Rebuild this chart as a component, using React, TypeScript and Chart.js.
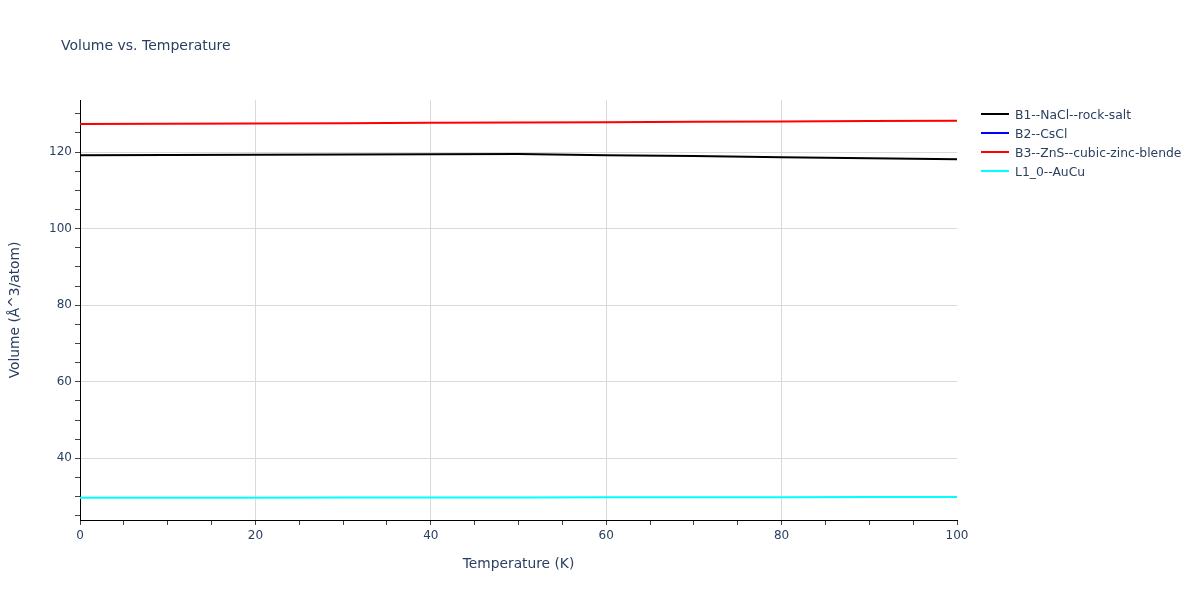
import React, { useEffect, useRef } from "react";
import { Chart, registerables } from "chart.js";

Chart.register(...registerables);

const temperatures = [0, 10, 20, 30, 40, 50, 60, 70, 80, 90, 100];
const b1Volume = [119.2, 119.25, 119.3, 119.35, 119.4, 119.5, 119.2, 118.95, 118.65, 118.4, 118.1];
const b2Volume: number[] = [];
const b3Volume = [127.3, 127.38, 127.46, 127.55, 127.64, 127.73, 127.82, 127.91, 128.0, 128.1, 128.2];
const l10Volume = [29.7, 29.72, 29.74, 29.76, 29.78, 29.8, 29.82, 29.84, 29.86, 29.88, 29.9];

const seriesNames = ["B1--NaCl--rock-salt", "B2--CsCl", "B3--ZnS--cubic-zinc-blende", "L1_0--AuCu"];
const seriesColors = ["#000000", "#0000ff", "#ff0000", "#00ffff"];
const xTicks = [0, 5, 10, 15, 20, 25, 30, 35, 40, 45, 50, 55, 60, 65, 70, 75, 80, 85, 90, 95, 100];
const yTicks = [25, 30, 35, 40, 45, 50, 55, 60, 65, 70, 75, 80, 85, 90, 95, 100, 105, 110, 115, 120, 125, 130];

const FONT = "'DejaVu Sans', Verdana, sans-serif";
const TEXT = "#2a3f5f";

const overlay = {
  id: "overlay",
  afterDraw(chart: any) {
    const ctx = chart.ctx;
    const area = chart.chartArea;
    ctx.save();
    ctx.fillStyle = TEXT;
    ctx.font = `14px ${FONT}`;
    ctx.textAlign = "left";
    ctx.textBaseline = "alphabetic";
    ctx.fillText("Volume vs. Temperature", 61, 50);

    ctx.font = `13.8px ${FONT}`;
    ctx.textAlign = "center";
    ctx.fillText("Temperature (K)", (area.left + area.right) / 2, 568);
    ctx.save();
    ctx.translate(19, (area.top + area.bottom) / 2);
    ctx.rotate(-Math.PI / 2);
    ctx.fillText("Volume (Å^3/atom)", 0, 0);
    ctx.restore();

    ctx.font = `12.35px ${FONT}`;
    ctx.textAlign = "left";
    ctx.textBaseline = "alphabetic";
    seriesNames.forEach((name, i) => {
      const y = 114 + i * 19;
      ctx.strokeStyle = seriesColors[i];
      ctx.lineWidth = 2;
      ctx.beginPath();
      ctx.moveTo(981, y);
      ctx.lineTo(1009, y);
      ctx.stroke();
      ctx.fillStyle = TEXT;
      ctx.fillText(name, 1015, y + 4.5);
    });
    ctx.restore();
  },
};

export default function App() {
  const ref = useRef<HTMLCanvasElement>(null);
  useEffect(() => {
    if (!ref.current) return;
    const datasets = [b1Volume, b2Volume, b3Volume, l10Volume].map((d, i) => ({
      label: seriesNames[i],
      data: d.map((v, j) => ({ x: temperatures[j], y: v })),
      borderColor: seriesColors[i],
      backgroundColor: seriesColors[i],
      borderWidth: 2,
      pointRadius: 0,
      tension: 0,
      fill: false,
    }));
    const chart = new Chart(ref.current, {
      type: "line",
      data: { datasets },
      plugins: [overlay],
      options: {
        animation: false,
        responsive: false,
        layout: { padding: { left: 0, top: 100, right: 243, bottom: 0 } },
        plugins: { legend: { display: false }, title: { display: false }, tooltip: { enabled: false } },
        scales: {
          x: {
            type: "linear",
            min: 0,
            max: 100,
            afterFit(scale: any) {
              scale.height = 80;
            },
            afterBuildTicks(scale: any) {
              scale.ticks = xTicks.map((v) => ({ value: v }));
            },
            border: { display: true, color: "#000000", width: 1 },
            grid: {
              drawOnChartArea: true,
              drawTicks: true,
              tickLength: 5,
              tickColor: "#444444",
              color: (c: any) => {
                const v = c.tick ? c.tick.value : 0;
                return v % 20 === 0 && v !== 0 && v !== 100 ? "#dadada" : "rgba(0,0,0,0)";
              },
            },
            ticks: {
              autoSkip: false,
              maxRotation: 0,
              padding: 4,
              color: TEXT,
              font: { family: FONT, size: 12 },
              callback: (v: any) => (Number(v) % 20 === 0 ? String(v) : ""),
            },
          },
          y: {
            type: "linear",
            min: 23.9,
            max: 133.6,
            afterFit(scale: any) {
              scale.width = 80;
            },
            afterBuildTicks(scale: any) {
              scale.ticks = yTicks.map((v) => ({ value: v }));
            },
            border: { display: true, color: "#000000", width: 1 },
            grid: {
              drawOnChartArea: true,
              drawTicks: true,
              tickLength: 5,
              tickColor: "#444444",
              color: (c: any) => {
                const v = c.tick ? c.tick.value : 0;
                return v % 20 === 0 ? "#dadada" : "rgba(0,0,0,0)";
              },
            },
            ticks: {
              autoSkip: false,
              padding: 3,
              color: TEXT,
              font: { family: FONT, size: 12 },
              callback: (v: any) => (Number(v) % 20 === 0 ? String(v) : ""),
            },
          },
        },
      },
    });
    return () => chart.destroy();
  }, []);
  return (
    <div style={{ position: "fixed", left: 0, top: 0, width: 1200, height: 600, background: "#fff" }}>
      <canvas ref={ref} width={1200} height={600} style={{ width: 1200, height: 600 }} />
    </div>
  );
}
